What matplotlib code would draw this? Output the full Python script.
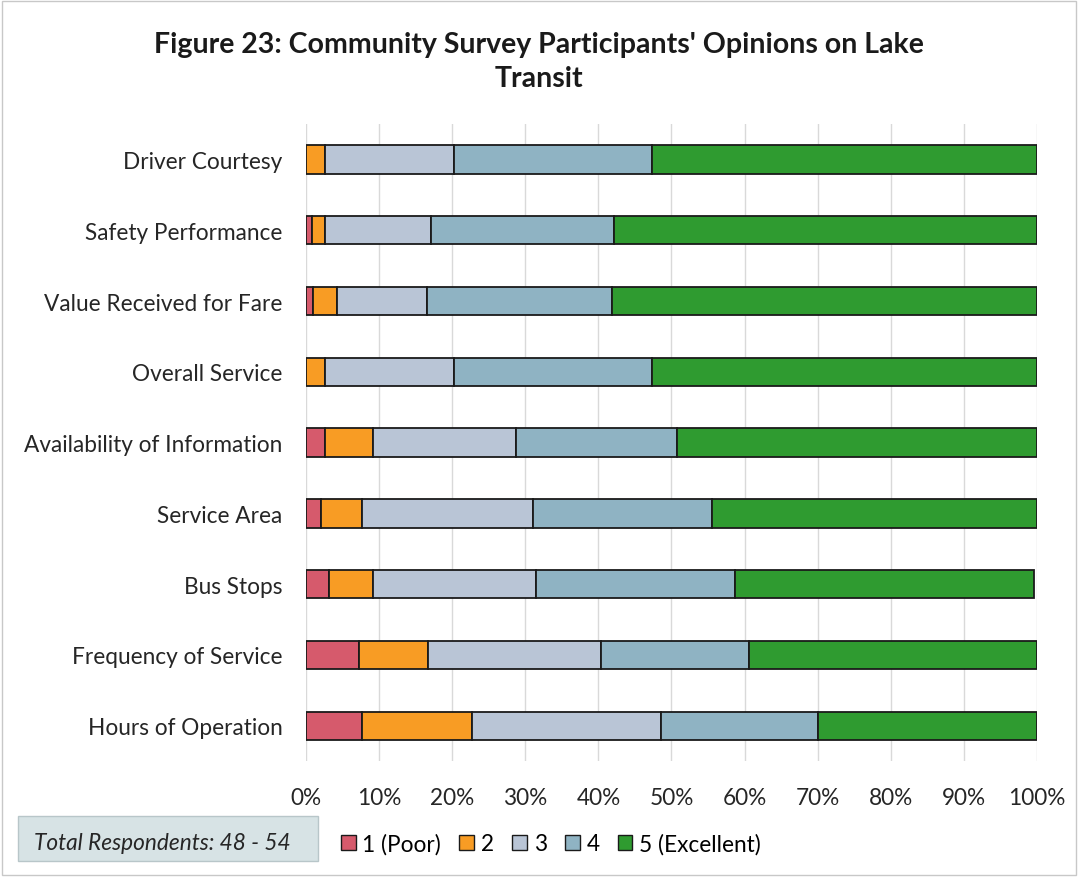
import numpy as np
import matplotlib.pyplot as plt
from matplotlib.patches import Rectangle, Patch

plt.rcParams['font.family'] = ['Lato', 'DejaVu Sans']

categories = ['Driver Courtesy', 'Safety Performance', 'Value Received for Fare',
              'Overall Service', 'Availability of Information', 'Service Area',
              'Bus Stops', 'Frequency of Service', 'Hours of Operation']

# percent of respondents per rating
poor = [0.0, 0.8, 1.0, 0.0, 2.6, 2.0, 3.1, 7.3, 7.6]
two = [2.6, 1.8, 3.3, 2.6, 6.6, 5.6, 6.1, 9.4, 15.1]
three = [17.6, 14.5, 12.2, 17.6, 19.5, 23.5, 22.3, 23.7, 25.8]
four = [27.2, 25.1, 25.3, 27.1, 22.1, 24.5, 27.2, 20.2, 21.6]
excellent = [52.6, 57.8, 58.2, 52.7, 49.2, 44.4, 40.9, 39.4, 29.9]

series = [poor, two, three, four, excellent]
names = ['1 (Poor)', '2', '3', '4', '5 (Excellent)']
colors = ['#d65a6c', '#f89c24', '#b9c5d6', '#8fb3c3', '#2f9b30']

fig = plt.figure(figsize=(10.78, 8.78), dpi=100)
ax = fig.add_axes([0.2839, 0.132, 0.678, 0.7255])

y = np.arange(len(categories))
left = np.zeros(len(categories))
for vals, c, n in zip(series, colors, names):
    vals = np.array(vals)
    ax.barh(y, vals, left=left, height=0.4, color=c, edgecolor='#1a1a1a',
            linewidth=1.3, label=n, zorder=3)
    left += vals

ax.set_xlim(0, 100)
ax.set_ylim(len(categories) - 0.5, -0.5)
ax.set_yticks(y)
ax.set_yticklabels(categories, fontsize=16.3, color='#262626')
ax.set_xticks(np.arange(0, 101, 10))
ax.set_xticklabels([f'{v}%' for v in range(0, 101, 10)], fontsize=16.3, color='#262626')
ax.tick_params(length=0)
ax.tick_params(axis='y', pad=17)
ax.tick_params(axis='x', pad=19)
ax.grid(axis='x', color='#d9d9d9', linewidth=1, zorder=0)
for s in ax.spines.values():
    s.set_visible(False)

fig.text(0.5, 0.929, "Figure 23: Community Survey Participants' Opinions on Lake\nTransit",
         ha='center', va='center', fontsize=20.5, fontweight='bold',
         color='#1a1a1a', linespacing=1.38)

# respondents box
fig.text(0.151, 0.0395, 'Total Respondents: 48 - 54', ha='center', va='center',
         fontsize=16.3, style='italic', color='#262626')
fig.patches.append(Rectangle((0.017, 0.018), 0.278, 0.051, transform=fig.transFigure,
                             facecolor='#d7e3e5', edgecolor='#b8c6c9', linewidth=1, zorder=0))

handles = [Patch(facecolor=c, edgecolor='#1a1a1a', linewidth=1, label=n)
           for c, n in zip(colors, names)]
fig.legend(handles=handles, loc='center', bbox_to_anchor=(0.511, 0.038), ncol=5,
           frameon=False, fontsize=16.3, handlelength=0.65, handleheight=0.65,
           handletextpad=0.3, columnspacing=0.8)

fig.patches.append(Rectangle((0.002, 0.002), 0.996, 0.996, transform=fig.transFigure,
                             facecolor='none', edgecolor='#c8c8c8', linewidth=1))

fig.savefig('out.png', dpi=100)
